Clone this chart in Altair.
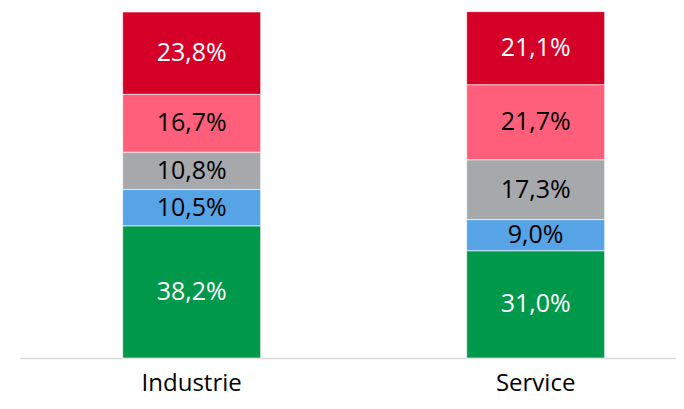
import altair as alt
import pandas as pd

categories = ["Industrie", "Service"]
segments = ["S1", "S2", "S3", "S4", "S5"]  # bottom to top
industrie = [38.2, 10.5, 10.8, 16.7, 23.8]
service = [31.0, 9.0, 17.3, 21.7, 21.1]
colors = ["#00984A", "#56A3E6", "#A7A8AC", "#FF5F7A", "#D50027"]
text_colors = ["white", "black", "black", "black", "white"]

rows = []
for cat, vals in zip(categories, [industrie, service]):
    for i, (seg, v) in enumerate(zip(segments, vals)):
        rows.append({
            "cat": cat, "seg": seg, "order": i, "value": v,
            "label": f"{v:.1f}".replace(".", ",") + "%",
            "tcolor": text_colors[i],
        })
df = pd.DataFrame(rows)

FONT = "Open Sans"

xenc = alt.X(
    "cat:N",
    sort=categories,
    scale=alt.Scale(paddingInner=0.599, paddingOuter=0.253, align=0.59),
    axis=alt.Axis(
        title=None, labelAngle=0, ticks=False, domainColor="#D9D9D9",
        domainWidth=1.5, labelFontSize=24, labelFont=FONT, labelColor="#000",
        labelPadding=13,
    ),
)
yscale = alt.Scale(domain=[0, 100], nice=False, zero=True)

base = alt.Chart(df).transform_stack(
    stack="value", as_=["v0", "v1"], groupby=["cat"],
    sort=[alt.SortField("order", order="ascending")],
).transform_calculate(mid="(datum.v0 + datum.v1) / 2")

bars = base.mark_bar(stroke="white", strokeWidth=0.6).encode(
    x=xenc,
    y=alt.Y("v0:Q", scale=yscale, axis=None),
    y2="v1:Q",
    color=alt.Color("seg:N", scale=alt.Scale(domain=segments, range=colors), legend=None),
)

labels = base.mark_text(font=FONT, fontSize=25, baseline="middle", align="center").encode(
    x=xenc,
    y=alt.Y("mid:Q", scale=yscale, axis=None),
    text="label:N",
    color=alt.Color("tcolor:N", scale=None),
)

chart = (bars + labels).properties(
    width=656, height=346,
    autosize=alt.AutoSizeParams(type="none"),
    padding={"left": 12, "top": 4, "right": 0, "bottom": 43},
).configure_view(stroke=None)

chart.save("out.html", embed_options={"renderer": "svg", "actions": False})
